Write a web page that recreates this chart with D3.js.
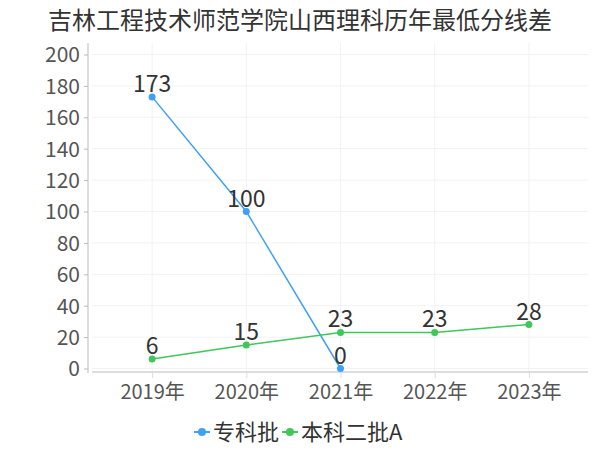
<!DOCTYPE html>
<html>
<head>
<meta charset="utf-8">
<script src="https://cdn.jsdelivr.net/npm/d3@7"></script>
<style>
  body { margin: 0; background: #fff; }
  text { font-family: "Noto Sans CJK SC", "Noto Sans", sans-serif; }
</style>
</head>
<body>
<div id="chart"></div>
<script>
// data
const years = ["2019年", "2020年", "2021年", "2022年", "2023年"];
const zhuanke = [173, 100, 0, null, null];
const benke2A = [6, 15, 23, 23, 28];
const seriesNames = ["专科批", "本科二批A"];
const yTicks = [0, 20, 40, 60, 80, 100, 120, 140, 160, 180, 200];

const W = 600, H = 450;
const colors = ["#3ea0f7", "#3fc75a"];

const svg = d3.select("#chart").append("svg")
    .attr("width", W)
    .attr("height", H);

// scales
const x = d3.scalePoint().domain(years).range([105, 576]).padding(0.5);
const y = d3.scaleLinear().domain([0, 200]).range([368.5, 54.5]);

// grid
svg.append("g").selectAll("line").data(yTicks).enter().append("line")
    .attr("x1", 92).attr("x2", 588)
    .attr("y1", d => y(d)).attr("y2", d => y(d))
    .attr("stroke", "#f2f2f2");
svg.append("g").selectAll("line").data(years).enter().append("line")
    .attr("x1", d => x(d)).attr("x2", d => x(d))
    .attr("y1", 43).attr("y2", 372)
    .attr("stroke", "#f2f2f2");

// y axis
const yAxis = svg.append("g")
    .attr("transform", "translate(88,0)")
    .call(d3.axisLeft(y).tickValues(yTicks).tickSize(4).tickPadding(4));
yAxis.select(".domain").attr("d", "M0,43V373").attr("stroke", "#bbb");
yAxis.selectAll(".tick line").attr("stroke", "#bbb");
yAxis.selectAll("text").attr("fill", "#555").style("font-size", "21px")
    .attr("dy", "0.35em");

// x axis
const xAxis = svg.append("g")
    .attr("transform", "translate(0,372)")
    .call(d3.axisBottom(x).tickSize(6).tickPadding(7));
xAxis.select(".domain").attr("d", "M92,0H588").attr("stroke", "#bbb");
xAxis.selectAll(".tick line").attr("stroke", "#ddd");
xAxis.selectAll("text").attr("fill", "#555").style("font-size", "20px");

// lines
const allSeries = [zhuanke, benke2A];
const line = d3.line()
    .defined(d => d != null)
    .x((d, i) => x(years[i]))
    .y(d => y(d));

allSeries.forEach((vals, s) => {
    svg.append("path")
        .attr("d", line(vals))
        .attr("fill", "none")
        .attr("stroke", colors[s])
        .attr("stroke-width", 1.5);

    const pts = vals.map((v, i) => ({ v, i })).filter(d => d.v != null);
    svg.append("g").selectAll("circle").data(pts).enter().append("circle")
        .attr("cx", d => x(years[d.i]))
        .attr("cy", d => y(d.v))
        .attr("r", 3.5)
        .attr("fill", colors[s]);

    svg.append("g").selectAll("text").data(pts).enter().append("text")
        .attr("x", d => x(years[d.i]))
        .attr("y", d => y(d.v) - 5)
        .attr("text-anchor", "middle")
        .attr("fill", "#333")
        .style("font-size", "23px")
        .text(d => d.v);
});

// title
svg.append("text")
    .attr("x", 300)
    .attr("y", 29)
    .attr("text-anchor", "middle")
    .attr("fill", "#333")
    .style("font-size", "24px")
    .text("吉林工程技术师范学院山西理科历年最低分线差");

// legend
const legendX = [194, 282];
const legend = svg.selectAll(".legend").data(seriesNames).enter().append("g")
    .attr("class", "legend")
    .attr("transform", (d, i) => `translate(${legendX[i]},432)`);
legend.append("line")
    .attr("x1", 0).attr("x2", 16)
    .attr("stroke", (d, i) => colors[i])
    .attr("stroke-width", 2);
legend.append("circle")
    .attr("cx", 8).attr("r", 4)
    .attr("fill", (d, i) => colors[i]);
legend.append("text")
    .attr("x", 19)
    .attr("dy", "0.35em")
    .attr("fill", "#333")
    .style("font-size", "22px")
    .text(d => d);
</script>
</body>
</html>
